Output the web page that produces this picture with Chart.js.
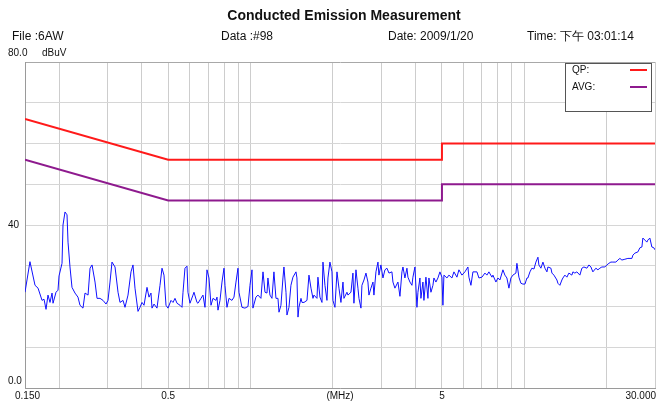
<html>
<head>
<title>Conducted Emission Measurement</title>
<script src="https://cdn.jsdelivr.net/npm/chart.js"></script>
<style>
  body { margin: 0; background: #ffffff; }
  #wrap { width: 656px; height: 402px; }
</style>
</head>
<body>
<div id="wrap"><canvas id="chart" width="656" height="402"></canvas></div>
<script>
// header texts
const chartTitle = 'Conducted Emission Measurement';
const infoTexts = ['File :6AW', 'Data :#98', 'Date: 2009/1/20', 'Time: 下午 03:01:14'];

// axis labels
const yUnit = 'dBuV';
const xUnit = '(MHz)';
const yLabels = [[80, '80.0'], [40, '40'], [0, '0.0']];
const xLabels = [[0.15, '0.150'], [0.5, '0.5'], [5, '5'], [30, '30.000']];
const gridFreqs = [0.15, 0.2, 0.3, 0.4, 0.5, 0.6, 0.7, 0.8, 0.9, 1, 2, 3, 4, 5, 6, 7, 8, 9, 10, 20, 30];

// limit lines
const limitFreq = [0.15, 0.5, 5, 5, 30];
const qpLimit = [66, 56, 56, 60, 60];
const avgLimit = [56, 46, 46, 50, 50];

// measured trace (MHz, dBuV)
const traceFreq = [
  0.150, 0.1564, 0.1632, 0.1674, 0.1731, 0.1760, 0.1790, 0.1820, 0.1851, 0.1883, 0.1899, 0.1947, 0.1980, 0.1997,
  0.2048, 0.2065, 0.2100, 0.2136, 0.2154, 0.2190, 0.2227, 0.2284, 0.2342, 0.2382, 0.2443, 0.2485, 0.2549, 0.2592,
  0.2636, 0.2703, 0.2749, 0.2819, 0.2891, 0.2965, 0.3015, 0.3066, 0.3118, 0.3198, 0.3280, 0.3335, 0.3421, 0.3478,
  0.3567, 0.3658, 0.3720, 0.3783, 0.3880, 0.3946, 0.4013, 0.4081, 0.4185, 0.4256, 0.4328, 0.4365, 0.4439,
  0.4552, 0.4668, 0.4748, 0.4828, 0.4910, 0.4993, 0.5121, 0.5208, 0.5296, 0.5386, 0.5524, 0.5617, 0.5665, 0.5760,
  0.5858, 0.5907, 0.6008, 0.6161, 0.6213, 0.6371, 0.6425, 0.6589, 0.6701, 0.6815, 0.6931, 0.7048, 0.7168, 0.7290,
  0.7476, 0.7539, 0.7603, 0.7732, 0.7863, 0.7996, 0.8063, 0.8200, 0.8339, 0.8552, 0.8697, 0.8844, 0.8994, 0.9070,
  0.9302, 0.9539, 0.9783, 0.9949, 1.012, 1.020, 1.046, 1.064, 1.091, 1.110, 1.129, 1.148, 1.157, 1.177, 1.197,
  1.217, 1.238, 1.259, 1.270, 1.291, 1.313, 1.324, 1.347, 1.358, 1.381, 1.404, 1.428, 1.465, 1.477, 1.490, 1.502,
  1.528, 1.541, 1.567, 1.607, 1.634, 1.662, 1.690, 1.704, 1.748, 1.762, 1.792, 1.823, 1.838, 1.869, 1.901, 1.917,
  1.949, 1.983, 1.999, 2.033, 2.068, 2.103, 2.138, 2.175, 2.193, 2.249, 2.268, 2.326, 2.365, 2.385, 2.426, 2.467,
  2.488, 2.530, 2.551, 2.595, 2.639, 2.683, 2.706, 2.752, 2.799, 2.822, 2.870, 2.919, 2.943, 2.993, 3.044, 3.096,
  3.148, 3.202, 3.283, 3.311, 3.367, 3.453, 3.512, 3.571, 3.602, 3.662, 3.725, 3.756, 3.820, 3.885, 3.917, 3.984,
  4.051, 4.086, 4.155, 4.190, 4.261, 4.297, 4.370, 4.444, 4.481, 4.558, 4.635, 4.674, 4.753, 4.834, 4.916, 4.999,
  5.041, 5.084, 5.214, 5.302, 5.438, 5.530, 5.671, 5.767, 5.915, 6.065, 6.220, 6.273, 6.380, 6.488, 6.710, 6.823,
  6.998, 7.176, 7.298, 7.422, 7.612, 7.676, 7.872, 8.005, 8.141, 8.349, 8.490, 8.634, 8.781, 8.930, 9.082, 9.313,
  9.392, 9.551, 9.713, 9.878, 10.05, 10.22, 10.30, 10.48, 10.65, 10.84, 11.02, 11.21, 11.30, 11.49, 11.69, 11.89,
  12.09, 12.19, 12.50, 12.61, 12.82, 13.15, 13.26, 13.48, 13.71, 13.83, 14.06, 14.30, 14.54, 14.91, 15.04, 15.29,
  15.55, 15.95, 16.22, 16.50, 16.92, 17.21, 17.50, 17.79, 18.25, 18.56, 18.87, 19.19, 19.68, 20.02, 20.36, 20.70,
  21.05, 21.59, 21.96, 22.33, 22.71, 23.29, 23.88, 24.70, 24.91, 25.33, 25.98, 26.42, 26.87, 27.09, 27.55, 28.02,
  28.25, 28.73, 29.22, 29.72, 30.00
];
const traceLevel = [
  23.5, 31.0, 25.2, 24.5, 21.5, 21.8, 19.3, 22.8, 21.0, 23.3, 20.8, 23.5, 24.0, 27.5,
  30.6, 40.0, 43.2, 42.5, 35.8, 29.7, 24.7, 23.3, 22.3, 20.3, 19.6, 23.3, 22.8, 29.4,
  30.2, 26.0, 22.0, 22.0, 21.5, 20.6, 21.5, 26.0, 30.9, 29.7, 23.5, 21.0, 21.5, 19.8,
  22.8, 28.5, 30.2, 24.5, 18.8, 19.8, 21.0, 20.3, 24.7, 22.3, 23.3, 19.6, 20.6,
  19.6, 25.2, 29.4, 27.7, 20.3, 19.6, 21.5, 21.0, 22.0, 20.8, 20.3, 19.8, 23.5, 29.4,
  29.9, 23.5, 20.8, 22.8, 23.5, 21.0, 20.8, 22.0, 22.8, 19.8, 29.0, 27.0, 20.3, 22.0,
  21.5, 22.3, 19.1, 21.5, 26.0, 29.4, 25.2, 19.8, 22.0, 21.5, 22.3, 26.0, 29.4, 23.5,
  19.8, 19.6, 20.0, 25.2, 29.0, 19.6, 22.3, 22.8, 22.0, 28.5, 23.5, 23.3, 27.0, 22.8, 22.0,
  28.5, 22.0, 22.0, 18.6, 20.3, 27.0, 29.7, 23.5, 17.9, 19.8, 25.2, 27.2, 28.5, 27.0, 17.4, 19.8,
  22.0, 21.0, 21.0, 21.5, 27.7, 24.5, 22.0, 22.8, 22.0, 27.2, 22.3, 21.0, 30.9, 25.2, 21.5, 27.0,
  30.9, 28.5, 21.5, 19.8, 28.5, 24.5, 21.0, 26.0, 22.0, 23.5, 22.8, 23.5, 28.2, 20.8, 29.0, 24.5,
  22.0, 19.6, 25.2, 26.5, 28.2, 26.0, 22.8, 24.5, 26.0, 22.8, 28.5, 30.9, 27.7, 30.2, 27.0, 29.0,
  29.4, 28.2, 28.5, 26.0, 24.5, 26.0, 22.5, 28.5, 29.7, 27.0, 29.4, 27.2, 26.0, 25.2, 27.2, 29.7,
  19.8, 23.5, 27.0, 22.0, 26.0, 21.5, 27.2, 22.0, 27.0, 23.5, 25.2, 27.0, 26.0, 27.0, 28.5, 27.2,
  20.3, 27.7, 27.0, 27.7, 27.0, 28.5, 27.2, 29.0, 27.7, 28.5, 29.7, 27.2, 25.2, 28.5, 28.5, 27.0,
  27.2, 28.2, 27.7, 28.5, 27.2, 27.7, 26.0, 27.0, 26.5, 29.0, 27.7, 27.0, 24.5, 27.0, 27.7, 28.2,
  30.6, 27.2, 25.7, 25.5, 25.5, 27.0, 27.0, 28.5, 29.4, 29.2, 30.9, 32.1, 30.2, 29.4, 30.9, 29.4,
  28.5, 29.7, 29.4, 28.2, 27.7, 26.5, 25.7, 25.2, 26.5, 27.0, 27.7, 27.2, 28.2, 27.7, 28.5, 28.2,
  28.5, 27.7, 29.4, 29.7, 29.4, 30.2, 29.7, 28.5, 29.4, 29.0, 29.4, 29.7, 29.7, 30.2, 30.6, 30.9,
  30.9, 30.9, 31.4, 31.8, 31.4, 31.6, 31.8, 31.8, 32.6, 33.1, 33.4, 34.4, 34.6, 36.8, 36.3, 35.8,
  36.3, 36.8, 34.6, 34.4, 33.9
];

const FONT = '"Liberation Sans", Arial, sans-serif';

const textPlugin = {
  id: 'texts',
  afterDraw(chart) {
    const ctx = chart.ctx;
    const xs = chart.scales.x;
    const ys = chart.scales.y;
    ctx.save();
    ctx.fillStyle = '#111';
    ctx.textBaseline = 'middle';

    // title + info line
    ctx.font = 'bold 14px ' + FONT;
    ctx.textAlign = 'center';
    ctx.fillText(chartTitle, 344, 16);
    ctx.font = '12px ' + FONT;
    ctx.textAlign = 'left';
    const infoX = [12, 221, 388, 527];
    infoTexts.forEach((t, i) => ctx.fillText(t, infoX[i], 37));

    // y labels
    ctx.font = '10px ' + FONT;
    yLabels.forEach(([v, t]) => {
      let y = ys.getPixelForValue(v);
      if (v === 80) y -= 9;
      if (v === 0) y -= 7;
      ctx.fillText(t, 8, y);
    });
    ctx.fillText(yUnit, 42, ys.getPixelForValue(80) - 9);

    // x labels
    const yb = 396;
    xLabels.forEach(([v, t]) => {
      let x = xs.getPixelForValue(v);
      if (v === 30) { ctx.textAlign = 'right'; x = 656; }
      else if (v === 0.15) { ctx.textAlign = 'left'; x = x - 10; }
      else ctx.textAlign = 'center';
      ctx.fillText(t, x, yb);
    });
    ctx.textAlign = 'center';
    ctx.fillText(xUnit, (chart.chartArea.left + chart.chartArea.right) / 2, yb);

    // legend box
    const bx = 565, by = 63, bw = 86, bh = 48;
    ctx.fillStyle = '#fff';
    ctx.fillRect(bx, by, bw, bh);
    ctx.strokeStyle = '#555';
    ctx.lineWidth = 1;
    ctx.strokeRect(bx + 0.5, by + 0.5, bw, bh);
    ctx.textAlign = 'left';
    ctx.font = '10px ' + FONT;
    const legendItems = [['QP:', '#ff1a1a'], ['AVG:', '#8e1a8e']];
    legendItems.forEach(([t, c], i) => {
      const ly = 70 + i * 17;
      ctx.fillStyle = '#111';
      ctx.fillText(t, 572, ly);
      ctx.strokeStyle = c;
      ctx.lineWidth = 2;
      ctx.beginPath();
      ctx.moveTo(630, ly);
      ctx.lineTo(647, ly);
      ctx.stroke();
    });
    ctx.restore();
  }
};

const toPoints = (xs, ys) => xs.map((x, i) => ({ x: x, y: ys[i] }));

new Chart(document.getElementById('chart'), {
  type: 'line',
  data: {
    datasets: [
      { label: 'QP', data: toPoints(limitFreq, qpLimit), borderColor: '#ff1a1a', borderWidth: 2 },
      { label: 'AVG', data: toPoints(limitFreq, avgLimit), borderColor: '#8e1a8e', borderWidth: 2 },
      { label: 'Trace', data: toPoints(traceFreq, traceLevel), borderColor: '#1010ff', borderWidth: 1 }
    ]
  },
  options: {
    responsive: false,
    animation: false,
    events: [],
    layout: { padding: { left: 25, right: 1, top: 62, bottom: 14 } },
    elements: { point: { radius: 0 }, line: { tension: 0 } },
    plugins: { legend: { display: false }, tooltip: { enabled: false }, title: { display: false } },
    scales: {
      x: {
        type: 'logarithmic',
        min: 0.15,
        max: 30,
        afterBuildTicks: (scale) => { scale.ticks = gridFreqs.map(v => ({ value: v })); },
        ticks: { display: false },
        grid: { color: '#cdcdcd', drawTicks: false },
        border: { color: '#9a9a9a' }
      },
      y: {
        min: 0,
        max: 80,
        ticks: { display: false, stepSize: 10 },
        grid: {
          color: (c) => (c.tick && c.tick.value === 80 ? '#a8a8a8' : '#d6d6d6'),
          drawTicks: false
        },
        border: { color: '#9a9a9a' }
      }
    }
  },
  plugins: [textPlugin]
});
</script>
</body>
</html>
